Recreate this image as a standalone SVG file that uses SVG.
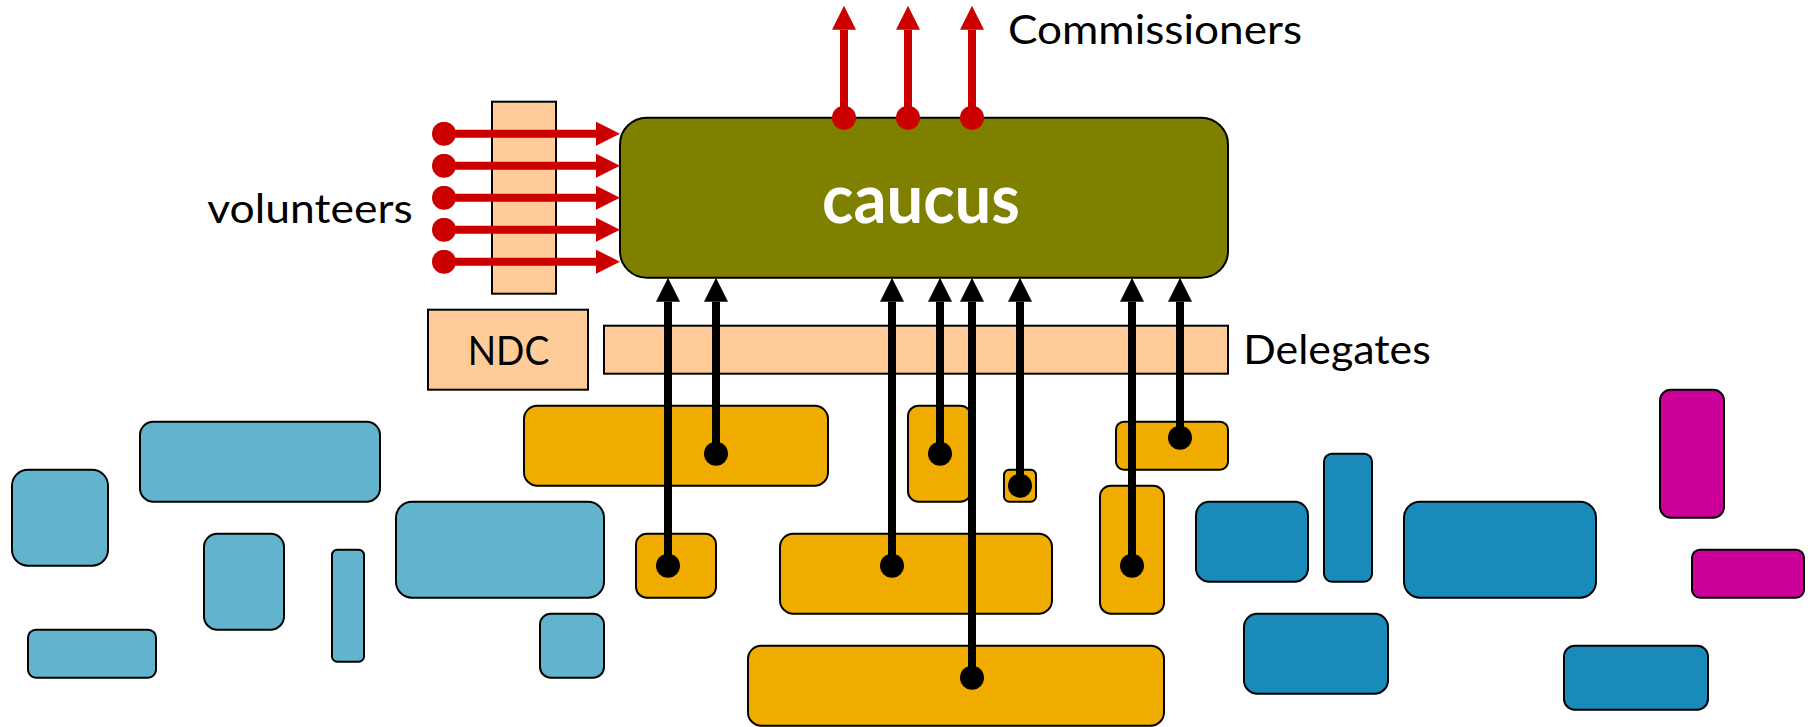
<svg xmlns="http://www.w3.org/2000/svg" width="1810" height="727" viewBox="0 0 1810 727">
<style>
.box{stroke:#000;stroke-width:2}
.lb{fill:#62B4CD}
.db{fill:#188BBA}
.or{fill:#F0AD00}
.mg{fill:#CC0099}
.pe{fill:#FFCC99}
.lbl{font-family:"Lato","Liberation Sans",sans-serif;font-size:40px;fill:#000}
.red{stroke:#CC0000;stroke-width:8;fill:none}
.blk{stroke:#000;stroke-width:8;fill:none}
</style>
<defs>
<marker id="ahR" viewBox="0 0 24 24" markerWidth="24" markerHeight="24" markerUnits="userSpaceOnUse" refX="0" refY="12" orient="auto"><path d="M0,0 L24,12 L0,24 z" fill="#CC0000"/></marker>
<marker id="dotR" viewBox="-12 -12 24 24" markerWidth="24" markerHeight="24" markerUnits="userSpaceOnUse" refX="0" refY="0"><circle r="12" fill="#CC0000"/></marker>
<marker id="ahK" viewBox="0 0 24 24" markerWidth="24" markerHeight="24" markerUnits="userSpaceOnUse" refX="0" refY="12" orient="auto"><path d="M0,0 L24,12 L0,24 z" fill="#000"/></marker>
<marker id="dotK" viewBox="-12 -12 24 24" markerWidth="24" markerHeight="24" markerUnits="userSpaceOnUse" refX="0" refY="0"><circle r="12" fill="#000"/></marker>
</defs>
<g id="nodes">
<g id="lb1"><rect class="box lb" x="12" y="469.7" width="96" height="96" rx="16"/></g>
<g id="lb2"><rect class="box lb" x="140" y="421.7" width="240" height="80" rx="13.3"/></g>
<g id="lb3"><rect class="box lb" x="204" y="533.7" width="80" height="96" rx="13.3"/></g>
<g id="lb4"><rect class="box lb" x="332" y="549.7" width="32" height="112" rx="5.3"/></g>
<g id="lb5"><rect class="box lb" x="396" y="501.7" width="208" height="96" rx="16"/></g>
<g id="lb6"><rect class="box lb" x="28" y="629.7" width="128" height="48" rx="8"/></g>
<g id="lb7"><rect class="box lb" x="540" y="613.7" width="64" height="64" rx="10.7"/></g>
<g id="or1"><rect class="box or" x="524" y="405.7" width="304" height="80" rx="13.3"/></g>
<g id="or2"><rect class="box or" x="636" y="533.7" width="80" height="64" rx="10.7"/></g>
<g id="or3"><rect class="box or" x="780" y="533.7" width="272" height="80" rx="13.3"/></g>
<g id="or4"><rect class="box or" x="748" y="645.7" width="416" height="80" rx="13.3"/></g>
<g id="or5"><rect class="box or" x="908" y="405.7" width="63" height="96" rx="10.5"/></g>
<g id="or6"><rect class="box or" x="1004" y="469.7" width="32" height="32" rx="5.3"/></g>
<g id="or7"><rect class="box or" x="1116" y="421.7" width="112" height="48" rx="8"/></g>
<g id="or8"><rect class="box or" x="1100" y="485.7" width="64" height="128" rx="10.7"/></g>
<g id="db1"><rect class="box db" x="1196" y="501.7" width="112" height="80" rx="13.3"/></g>
<g id="db2"><rect class="box db" x="1324" y="453.7" width="48" height="128" rx="8"/></g>
<g id="db3"><rect class="box db" x="1404" y="501.7" width="192" height="96" rx="16"/></g>
<g id="db4"><rect class="box db" x="1244" y="613.7" width="144" height="80" rx="13.3"/></g>
<g id="db5"><rect class="box db" x="1564" y="645.7" width="144" height="64" rx="10.7"/></g>
<g id="mg1"><rect class="box mg" x="1660" y="389.7" width="64" height="128" rx="10.7"/></g>
<g id="mg2"><rect class="box mg" x="1692" y="549.7" width="112" height="48" rx="8"/></g>
<g id="volbar"><rect class="box pe" x="492" y="101.7" width="64" height="192"/></g>
<g id="ndc"><rect class="box pe" x="428" y="309.7" width="160" height="80"/><text class="lbl" x="467.7" y="365.3" textLength="81.6" lengthAdjust="spacingAndGlyphs">NDC</text></g>
<g id="delegates"><rect class="box pe" x="604" y="325.7" width="624" height="48"/><text class="lbl" x="1243.3" y="364.3" textLength="187.4" lengthAdjust="spacingAndGlyphs">Delegates</text></g>
<g id="caucus"><rect class="box" fill="#808000" x="620" y="117.7" width="608" height="160" rx="26.7"/><text x="822" y="222.7" font-family="Lato,'Liberation Sans',sans-serif" font-weight="bold" font-size="68" fill="#FFFFFF" textLength="198" lengthAdjust="spacingAndGlyphs">caucus</text></g>
<g id="volunteers"><text class="lbl" x="207.3" y="222.7" textLength="205.4" lengthAdjust="spacingAndGlyphs">volunteers</text></g>
<g id="commissioners"><text class="lbl" x="1008" y="44.3" textLength="294" lengthAdjust="spacingAndGlyphs">Commissioners</text></g>
</g>
<g id="connectors">
<path class="red" marker-start="url(#dotR)" marker-end="url(#ahR)" d="M444,133.7 H596"/>
<path class="red" marker-start="url(#dotR)" marker-end="url(#ahR)" d="M444,165.7 H596"/>
<path class="red" marker-start="url(#dotR)" marker-end="url(#ahR)" d="M444,197.7 H596"/>
<path class="red" marker-start="url(#dotR)" marker-end="url(#ahR)" d="M444,229.7 H596"/>
<path class="red" marker-start="url(#dotR)" marker-end="url(#ahR)" d="M444,261.7 H596"/>
<path class="red" marker-start="url(#dotR)" marker-end="url(#ahR)" d="M844,117.7 V29.7"/>
<path class="red" marker-start="url(#dotR)" marker-end="url(#ahR)" d="M908,117.7 V29.7"/>
<path class="red" marker-start="url(#dotR)" marker-end="url(#ahR)" d="M972,117.7 V29.7"/>
<path class="blk" marker-start="url(#dotK)" marker-end="url(#ahK)" d="M668,565.7 V301.7"/>
<path class="blk" marker-start="url(#dotK)" marker-end="url(#ahK)" d="M716,453.7 V301.7"/>
<path class="blk" marker-start="url(#dotK)" marker-end="url(#ahK)" d="M892,565.7 V301.7"/>
<path class="blk" marker-start="url(#dotK)" marker-end="url(#ahK)" d="M940,453.7 V301.7"/>
<path class="blk" marker-start="url(#dotK)" marker-end="url(#ahK)" d="M972,677.7 V301.7"/>
<path class="blk" marker-start="url(#dotK)" marker-end="url(#ahK)" d="M1020,485.7 V301.7"/>
<path class="blk" marker-start="url(#dotK)" marker-end="url(#ahK)" d="M1132,565.7 V301.7"/>
<path class="blk" marker-start="url(#dotK)" marker-end="url(#ahK)" d="M1180,437.7 V301.7"/>
</g>
</svg>
